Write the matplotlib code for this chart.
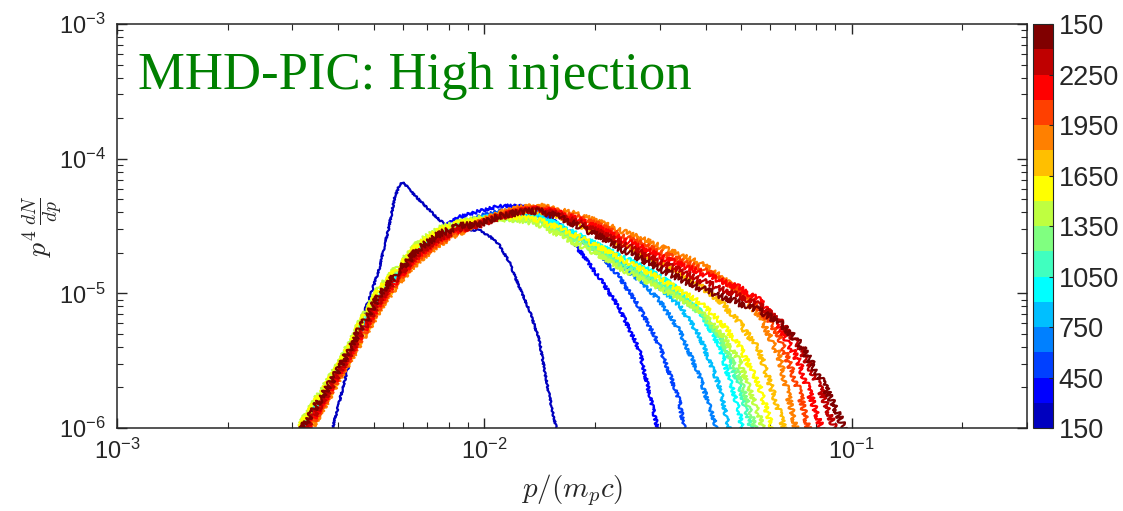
import numpy as np
import matplotlib
matplotlib.use("Agg")
import matplotlib.pyplot as plt
from matplotlib.colors import ListedColormap, Normalize
import matplotlib.colorbar as mcolorbar
from matplotlib.ticker import LogLocator, NullFormatter

plt.rcParams['font.family'] = ['Liberation Sans', 'DejaVu Sans']
plt.rcParams['mathtext.fontset'] = 'cm'

# ---------------- data (f values in units of 1e-6) ----------------
F_UNIT = 1e-6
p_grid = [2.95e-3, 3.14e-3, 3.56e-3, 4.04e-3, 4.57e-3, 5.18e-3, 5.87e-3, 6.66e-3, 7.54e-3, 8.55e-3,
          9.69e-3, 1.10e-2, 1.245e-2, 1.41e-2, 1.60e-2, 1.81e-2, 2.05e-2, 2.33e-2, 2.64e-2, 2.99e-2,
          3.39e-2, 3.84e-2, 4.35e-2, 4.93e-2, 5.59e-2, 6.33e-2, 7.18e-2, 8.13e-2, 9.22e-2, 1.045e-1]

p_c00 = [3.674e-3, 3.864e-3, 4.217e-3, 4.432e-3, 4.660e-3, 4.929e-3, 5.183e-3, 5.348e-3, 5.517e-3, 5.693e-3,
         5.874e-3, 6.023e-3, 6.253e-3, 6.656e-3, 7.088e-3, 7.545e-3, 8.032e-3, 8.55e-3, 9.10e-3, 9.69e-3,
         1.032e-2, 1.099e-2, 1.169e-2, 1.245e-2, 1.325e-2, 1.411e-2, 1.474e-2, 1.530e-2, 1.569e-2, 1.619e-2]
f_c00 = [0.748, 1.0, 2.56, 4.13, 6.67, 10.2, 15.4, 22.8, 32.2, 51.0,
         63.7, 67.0, 58.5, 49.3, 41.5, 35.0, 31.1, 30.0, 29.5, 29.5,
         26.6, 22.8, 17.1, 11.1, 7.52, 4.50, 2.27, 1.36, 1.0, 0.687]

f_c01 = [0.65, 0.86, 1.53, 2.70, 4.99, 9.07, 14.2, 20.6, 29.5, 36.9,
         40.8, 44.5, 44.5, 41.5, 32.2, 21.0, 13.2, 7.78, 3.79, 0.89]
f_c02 = [0.68, 0.89, 1.59, 2.79, 5.25, 9.55, 14.6, 21.3, 27.6, 31.6,
         37.5, 40.8, 41.5, 39.5, 32.2, 25.7, 19.9, 13.2, 7.91, 4.13, 1.61, 0.24]
f_c03 = [0.64, 0.84, 1.48, 2.65, 4.90, 8.92, 14.2, 20.6, 26.2, 30.5,
         36.2, 39.5, 39.5, 36.9, 31.1, 25.7, 21.0, 16.2, 12.6, 8.92, 5.34, 2.48, 0.89]
f_c04 = [0.65, 0.86, 1.53, 2.70, 4.99, 9.07, 14.2, 20.6, 26.6, 30.5,
         35.6, 38.1, 38.8, 36.2, 30.5, 25.7, 21.0, 17.1, 14.4, 11.1, 8.19, 4.90, 2.09, 0.49]
f_c05 = [0.66, 0.87, 1.56, 2.74, 5.16, 9.39, 14.4, 21.0, 27.1, 31.1,
         35.6, 38.8, 39.5, 37.5, 32.2, 27.1, 22.8, 19.3, 16.2, 13.7, 10.6, 7.52, 4.13, 1.36, 0.18]
f_c06 = [0.72, 0.95, 1.67, 2.89, 5.53, 10.1, 15.4, 22.5, 28.5, 32.2,
         35.0, 36.9, 36.9, 34.4, 29.5, 24.9, 21.0, 17.1, 14.4, 12.1, 9.71, 7.52, 4.90, 2.09, 0.63]
f_c07 = [0.75, 0.98, 1.73, 2.99, 5.72, 10.6, 15.7, 23.2, 29.5, 32.7,
         35.0, 36.2, 35.6, 33.3, 28.5, 24.0, 19.9, 16.2, 13.7, 11.5, 9.39, 7.26, 4.90, 2.48, 0.82]
f_c08 = [0.80, 1.05, 1.82, 3.09, 6.02, 11.1, 16.5, 24.5, 30.5, 33.8,
         36.2, 35.6, 35.0, 32.2, 27.1, 22.8, 19.3, 15.4, 13.0, 11.0, 9.23, 7.52, 5.34, 3.20, 1.25, 0.41]
f_c09 = [0.77, 1.02, 1.76, 2.99, 5.82, 10.8, 16.0, 23.6, 29.5, 33.3,
         35.0, 36.9, 36.9, 35.0, 30.5, 26.2, 22.1, 18.3, 15.4, 13.0, 10.6, 8.62, 6.34, 4.13, 2.09, 0.69]
f_c10 = [0.55, 0.72, 1.32, 2.43, 4.35, 7.78, 12.8, 18.3, 24.0, 28.5,
         33.8, 38.8, 41.5, 40.8, 37.5, 32.2, 28.0, 23.6, 19.9, 16.8, 14.2, 11.5, 8.92, 6.12, 3.79, 1.36, 0.41]
f_c11 = [0.53, 0.70, 1.27, 2.35, 4.20, 7.52, 12.3, 17.7, 23.2, 28.0,
         33.8, 39.5, 43.0, 44.5, 41.5, 38.1, 33.8, 29.5, 25.7, 22.5, 19.3, 16.8, 13.7, 10.2, 6.90, 3.48, 0.80]
f_c12 = [0.57, 0.75, 1.34, 2.43, 4.42, 7.91, 13.0, 18.6, 24.0, 29.0,
         33.3, 38.1, 41.5, 43.0, 40.1, 36.2, 32.2, 27.1, 23.6, 20.3, 17.7, 15.4, 13.0, 10.6, 7.78, 4.90, 1.91, 0.49]
f_c13 = [0.60, 0.79, 1.41, 2.56, 4.66, 8.47, 13.4, 19.6, 25.3, 29.5,
         32.7, 37.5, 40.8, 42.3, 39.5, 35.0, 30.5, 25.7, 22.1, 18.9, 16.5, 14.4, 12.6, 11.0, 8.92, 5.82, 3.09, 1.15, 0.41]
f_c14 = [0.63, 0.83, 1.46, 2.60, 4.82, 8.77, 13.9, 20.3, 25.7, 30.0,
         32.2, 36.9, 40.1, 41.5, 38.1, 33.3, 28.5, 24.0, 20.3, 17.1, 14.9, 12.6, 11.0, 9.55, 8.19, 6.34, 4.13, 2.09, 0.82]
f_c15 = [0.70, 0.92, 1.61, 2.79, 5.34, 9.71, 14.9, 21.7, 27.6, 31.6,
         32.7, 37.5, 40.1, 40.8, 36.9, 31.6, 26.6, 21.7, 18.3, 15.4, 13.0, 11.0, 9.71, 8.47, 7.52, 6.12, 4.35, 2.48, 1.25, 0.49]

cbar_tick_labels = ["150", "450", "750", "1050", "1350", "1650", "1950", "2250", "150"]
title_text = "MHD-PIC: High injection"

# MATLAB jet(16)
jet16 = [(0, 0, 0.75), (0, 0, 1), (0, 0.25, 1), (0, 0.5, 1), (0, 0.75, 1), (0, 1, 1),
         (0.25, 1, 0.75), (0.5, 1, 0.5), (0.75, 1, 0.25), (1, 1, 0), (1, 0.75, 0),
         (1, 0.5, 0), (1, 0.25, 0), (1, 0, 0), (0.75, 0, 0), (0.5, 0, 0)]

grid_series = [f_c01, f_c02, f_c03, f_c04, f_c05, f_c06, f_c07, f_c08,
               f_c09, f_c10, f_c11, f_c12, f_c13, f_c14, f_c15]

# ---------------- figure ----------------
fig = plt.figure(figsize=(11.23, 5.11), dpi=100)
ax = fig.add_axes([0.1042, 0.1624, 0.8103, 0.7906])

ln, = ax.plot(p_c00, np.array(f_c00) * F_UNIT, color=jet16[0], lw=1.6)
ln.set_sketch_params(scale=0.8, length=5, randomness=4)
for i, f in enumerate(grid_series):
    ln, = ax.plot(p_grid[:len(f)], np.array(f) * F_UNIT, color=jet16[i + 1], lw=1.6)
    ln.set_sketch_params(scale=1.6 + 0.12 * i, length=5, randomness=4)

ax.set_xscale('log')
ax.set_yscale('log')
ax.set_xlim(1e-3, 0.3)
ax.set_ylim(1e-6, 1e-3)

ax.xaxis.set_major_locator(LogLocator(base=10, numticks=10))
ax.yaxis.set_major_locator(LogLocator(base=10, numticks=10))
ax.xaxis.set_minor_locator(LogLocator(base=10, subs=np.arange(2, 10), numticks=20))
ax.yaxis.set_minor_locator(LogLocator(base=10, subs=np.arange(2, 10), numticks=20))
ax.xaxis.set_minor_formatter(NullFormatter())
ax.yaxis.set_minor_formatter(NullFormatter())

for s in ax.spines.values():
    s.set_color('#262626')
    s.set_linewidth(1.1)
ax.tick_params(which='both', direction='in', top=True, right=True, color='#262626',
               labelcolor='#262626', labelsize=17)
ax.tick_params(which='major', length=7, width=1.0, pad=8)
ax.tick_params(which='minor', length=4, width=0.8)

ax.set_xlabel(r'$p/(m_pc)$', fontsize=21, color='#262626', labelpad=6)
ax.set_ylabel(r'$p^4\,\frac{dN}{dp}$', fontsize=20, color='#262626', labelpad=-4)

ax.text(0.023, 0.84, title_text, transform=ax.transAxes, color=(0, 0.5, 0),
        fontsize=38, family=['Liberation Serif', 'DejaVu Serif'], va='baseline', ha='left')

# colorbar
cax = fig.add_axes([0.9199, 0.1624, 0.0178, 0.7906])
cmap = ListedColormap(jet16)
cb = mcolorbar.ColorbarBase(cax, cmap=cmap, norm=Normalize(0, 16),
                            ticks=list(range(0, 17, 2)), orientation='vertical')
cb.set_ticklabels(cbar_tick_labels)
cb.outline.set_edgecolor('#262626')
cb.outline.set_linewidth(0.8)
cax.tick_params(direction='in', length=3, width=0.8, labelsize=19.5, color='#262626',
                labelcolor='#262626', pad=4)

fig.savefig('out.png', dpi=100)
